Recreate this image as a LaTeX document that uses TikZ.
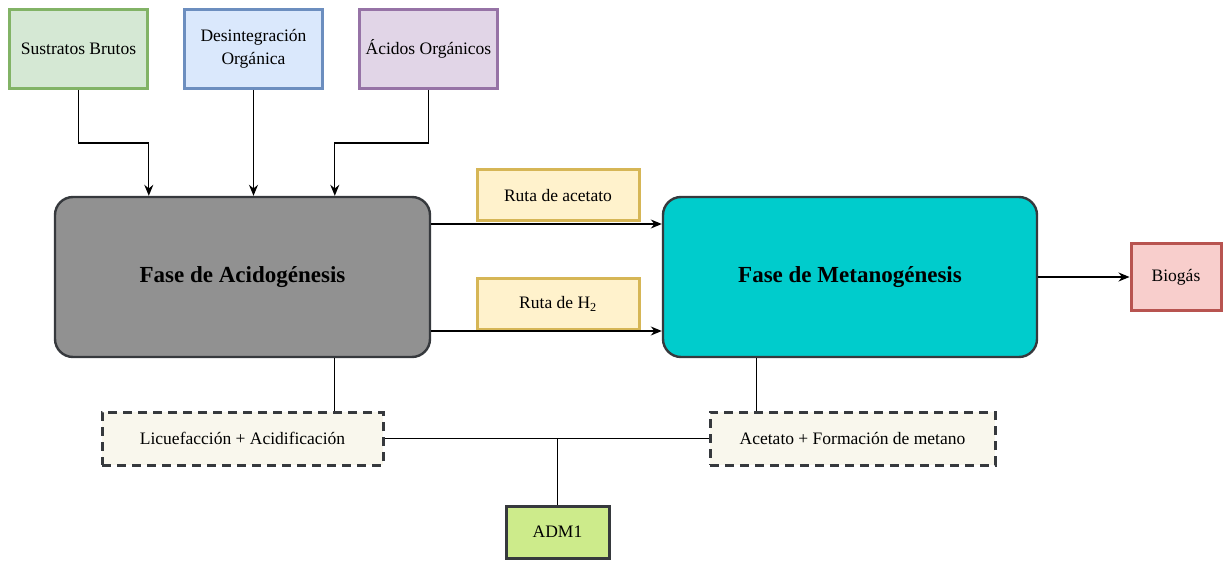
\documentclass[tikz,border=0pt]{standalone}
\usepackage{fontspec}
\setmainfont{Liberation Serif}
\usetikzlibrary{arrows.meta}

\definecolor{grnfill}{HTML}{D5E8D4}\definecolor{grnline}{HTML}{82B366}
\definecolor{blufill}{HTML}{DAE8FC}\definecolor{bluline}{HTML}{6C8EBF}
\definecolor{purfill}{HTML}{E1D5E7}\definecolor{purline}{HTML}{9673A6}
\definecolor{yelfill}{HTML}{FFF2CC}\definecolor{yelline}{HTML}{D6B656}
\definecolor{redfill}{HTML}{F8CECC}\definecolor{redline}{HTML}{B85450}
\definecolor{grayfill}{HTML}{919191}\definecolor{cyanfill}{HTML}{00CCCC}
\definecolor{darkline}{HTML}{36393D}
\definecolor{cream}{HTML}{F9F7ED}\definecolor{limefill}{HTML}{CDEB8B}

\tikzset{
  base/.style={draw, line width=3pt, align=center, inner sep=2pt,
    font=\fontsize{17.5}{23}\selectfont},
  srcbox/.style={base, minimum width=138pt, minimum height=79pt},
  rutabox/.style={base, fill=yelfill, draw=yelline, minimum width=162pt, minimum height=51pt},
  phasebox/.style={draw=darkline, line width=2.4pt, rounded corners=18pt,
    minimum height=160pt, font=\fontsize{23}{28}\selectfont\bfseries},
  stagebox/.style={base, fill=cream, draw=darkline, line width=3pt,
    dash pattern=on 9pt off 6pt, minimum height=53pt},
  arr/.style={line width=1.3pt, -{Stealth[length=11pt,width=9pt]}},
  link/.style={line width=1.3pt}
}

\begin{document}
\begin{tikzpicture}[x=1pt,y=-1pt]
  \useasboundingbox (0,0) rectangle (1223,561);

  % input boxes
  \node[srcbox, fill=grnfill, draw=grnline] (sb) at (78.5,49) {Sustratos Brutos};
  \node[srcbox, fill=blufill, draw=bluline] (di) at (253.5,49) {Desintegración\\Orgánica};
  \node[srcbox, fill=purfill, draw=purline] (ao) at (428.5,49) {Ácidos Orgánicos};

  % phases
  \node[phasebox, fill=grayfill, minimum width=375pt] (acid) at (242.5,277) {Fase de Acidogénesis};
  \node[phasebox, fill=cyanfill, minimum width=374pt] (meta) at (850,277) {Fase de Metanogénesis};

  % routes
  \node[rutabox] (ra) at (558,195.5) {Ruta de acetato};
  \node[rutabox] (rh) at (558,304) {Ruta de H\textsubscript{2}};

  % output
  \node[base, fill=redfill, draw=redline, minimum width=90pt, minimum height=67pt] (bio) at (1176,277) {Biogás};

  % stages and model
  \node[stagebox, minimum width=281pt] (licu) at (242.5,438.5) {Licuefacción + Acidificación};
  \node[stagebox, minimum width=285pt] (acet) at (852.5,438.5) {Acetato + Formación de metano};
  \node[base, fill=limefill, draw=darkline, minimum width=103pt, minimum height=52pt] (adm) at (557.5,532) {ADM1};

  % feed connectors
  \draw[arr] (sb.south) -- ++(0,53) -| ([xshift=95pt]acid.north west);
  \draw[arr] (di.south) -- (di.south |- acid.north);
  \draw[arr] (ao.south) -- ++(0,53) -| ([xshift=281pt]acid.north west);

  % route arrows
  \draw[arr] ([yshift=53pt]acid.east) -- ([yshift=53pt]meta.west);
  \draw[arr] ([yshift=-54pt]acid.east) -- ([yshift=-54pt]meta.west);
  \draw[arr] (meta.east) -- (bio.west);

  % stage links
  \coordinate (acidtap) at ([xshift=281pt]acid.south west);
  \coordinate (metatap) at ([xshift=95pt]meta.south west);
  \draw[link] (acidtap) -- (acidtap |- licu.north);
  \draw[link] (metatap) -- (metatap |- acet.north);
  \draw[link] (licu.east) -- (acet.west);
  \draw[link] (adm.north) -- (adm.north |- licu.east);
\end{tikzpicture}
\end{document}
